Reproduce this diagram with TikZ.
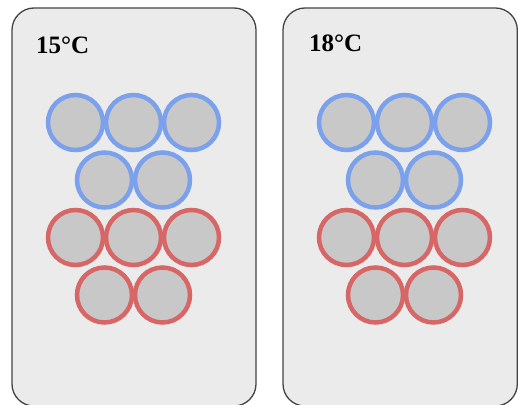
\documentclass[tikz,border=0pt]{standalone}
\usepackage{fontspec}
\setmainfont{Liberation Serif}
\definecolor{panelfill}{HTML}{EBEBEB}
\definecolor{panelline}{HTML}{444444}
\definecolor{ballfill}{HTML}{C8C8C8}
\definecolor{ballblue}{HTML}{7BA1EC}
\definecolor{ballred}{HTML}{D76666}
\tikzset{
  panel/.style={draw=panelline, fill=panelfill, line width=1.3pt, rounded corners=22pt},
  ball/.style={circle, fill=ballfill, line width=4.5pt, minimum size=55pt, inner sep=0pt},
  coldball/.style={ball, draw=ballblue},
  warmball/.style={ball, draw=ballred},
  templabel/.style={font=\bfseries\fontsize{25}{29}\selectfont, anchor=base west, inner sep=0pt}
}
\begin{document}
\begin{tikzpicture}[x=1pt,y=-1pt]
\useasboundingbox (0,0) rectangle (518,404);
\clip (0,0) rectangle (518,404);
\fill[white] (0,0) rectangle (518,404);
\draw[panel] (12,8) rectangle (256,406);
\draw[panel] (283,8) rectangle (517.3,406);
\node[templabel] (t15) at (36,53) {15°C};
\node[templabel] (t18) at (309,52) {18°C};
% left panel
\node[coldball] (la1) at (75.5,122.5) {};
\node[coldball] (la2) at (133.5,122.5) {};
\node[coldball] (la3) at (191.5,122.5) {};
\node[coldball] (lb1) at (104.5,180) {};
\node[coldball] (lb2) at (162.5,180) {};
\node[warmball] (lc1) at (75.5,237.5) {};
\node[warmball] (lc2) at (133.5,237.5) {};
\node[warmball] (lc3) at (191.5,237.5) {};
\node[warmball] (ld1) at (104.5,295) {};
\node[warmball] (ld2) at (162.5,295) {};
% right panel
\node[coldball] (ra1) at (346.5,122.5) {};
\node[coldball] (ra2) at (404.5,122.5) {};
\node[coldball] (ra3) at (462.5,122.5) {};
\node[coldball] (rb1) at (375.5,180) {};
\node[coldball] (rb2) at (433.5,180) {};
\node[warmball] (rc1) at (346.5,237.5) {};
\node[warmball] (rc2) at (404.5,237.5) {};
\node[warmball] (rc3) at (462.5,237.5) {};
\node[warmball] (rd1) at (375.5,295) {};
\node[warmball] (rd2) at (433.5,295) {};
\end{tikzpicture}
\end{document}
